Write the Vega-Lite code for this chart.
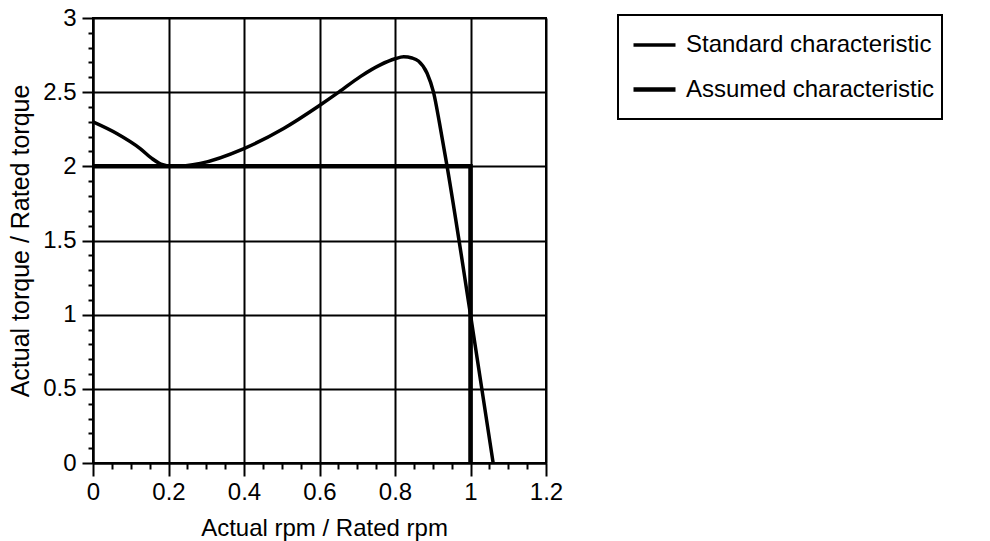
{
  "$schema": "https://vega.github.io/schema/vega-lite/v6.json",
  "width": 453,
  "height": 445,
  "autosize": "none",
  "padding": {"left": 93, "top": 18, "right": 444, "bottom": 78},
  "background": "white",
  "config": {
    "font": "Liberation Sans",
    "view": {"stroke": "black", "strokeWidth": 2},
    "axis": {
      "domainColor": "black",
      "domainWidth": 2,
      "tickColor": "black",
      "tickWidth": 2,
      "gridColor": "black",
      "gridWidth": 2,
      "labelColor": "black",
      "labelFontSize": 24,
      "titleColor": "black",
      "titleFontSize": 24,
      "titleFontWeight": "normal"
    }
  },
  "data": {
    "values": [
      {"series": "Standard characteristic", "i": 0, "rpm": 0, "torque": 2.30},
      {"series": "Standard characteristic", "i": 1, "rpm": 0.064, "torque": 2.22},
      {"series": "Standard characteristic", "i": 2, "rpm": 0.125, "torque": 2.12},
      {"series": "Standard characteristic", "i": 3, "rpm": 0.155, "torque": 2.055},
      {"series": "Standard characteristic", "i": 4, "rpm": 0.18, "torque": 2.015},
      {"series": "Standard characteristic", "i": 5, "rpm": 0.21, "torque": 2.0},
      {"series": "Standard characteristic", "i": 6, "rpm": 0.284, "torque": 2.02},
      {"series": "Standard characteristic", "i": 7, "rpm": 0.4, "torque": 2.12},
      {"series": "Standard characteristic", "i": 8, "rpm": 0.505, "torque": 2.255},
      {"series": "Standard characteristic", "i": 9, "rpm": 0.6, "torque": 2.41},
      {"series": "Standard characteristic", "i": 10, "rpm": 0.651, "torque": 2.5},
      {"series": "Standard characteristic", "i": 11, "rpm": 0.708, "torque": 2.605},
      {"series": "Standard characteristic", "i": 12, "rpm": 0.761, "torque": 2.684},
      {"series": "Standard characteristic", "i": 13, "rpm": 0.8, "torque": 2.725},
      {"series": "Standard characteristic", "i": 14, "rpm": 0.823, "torque": 2.738},
      {"series": "Standard characteristic", "i": 15, "rpm": 0.845, "torque": 2.73},
      {"series": "Standard characteristic", "i": 16, "rpm": 0.862, "torque": 2.71},
      {"series": "Standard characteristic", "i": 17, "rpm": 0.885, "torque": 2.628},
      {"series": "Standard characteristic", "i": 18, "rpm": 0.902, "torque": 2.5},
      {"series": "Standard characteristic", "i": 19, "rpm": 0.918, "torque": 2.29},
      {"series": "Standard characteristic", "i": 20, "rpm": 0.938, "torque": 2.0},
      {"series": "Standard characteristic", "i": 21, "rpm": 1.0, "torque": 1.0},
      {"series": "Standard characteristic", "i": 22, "rpm": 1.06, "torque": 0},
      {"series": "Assumed characteristic", "i": 0, "rpm": 0, "torque": 2.0},
      {"series": "Assumed characteristic", "i": 1, "rpm": 1.0, "torque": 2.0},
      {"series": "Assumed characteristic", "i": 2, "rpm": 1.0, "torque": 0}
    ]
  },
  "encoding": {
    "x": {
      "field": "rpm",
      "type": "quantitative",
      "scale": {"domain": [0, 1.2], "nice": false, "zero": false},
      "axis": {
        "title": "Actual rpm / Rated rpm",
        "values": [0, 0.05, 0.1, 0.15, 0.2, 0.25, 0.3, 0.35, 0.4, 0.45, 0.5, 0.55, 0.6, 0.65, 0.7, 0.75, 0.8, 0.85, 0.9, 0.95, 1, 1.05, 1.1, 1.15, 1.2],
        "labelExpr": "abs(datum.value*5 - round(datum.value*5)) < 0.001 ? format(datum.value, '~g') : ''",
        "tickSize": {"condition": {"test": "abs(datum.value*5 - round(datum.value*5)) < 0.001", "value": 13}, "value": 6},
        "grid": true,
        "gridOpacity": {"condition": {"test": "abs(datum.value*5 - round(datum.value*5)) < 0.001", "value": 1}, "value": 0},
        "labelPadding": 4,
        "labelFlush": false,
        "labelOverlap": false,
        "titleBaseline": "alphabetic",
        "titleY": 72,
        "titleX": 231
      }
    },
    "y": {
      "field": "torque",
      "type": "quantitative",
      "scale": {"domain": [0, 3], "nice": false},
      "axis": {
        "title": "Actual torque / Rated torque",
        "titleFontSize": 25,
        "values": [0, 0.1, 0.2, 0.3, 0.4, 0.5, 0.6, 0.7, 0.8, 0.9, 1, 1.1, 1.2, 1.3, 1.4, 1.5, 1.6, 1.7, 1.8, 1.9, 2, 2.1, 2.2, 2.3, 2.4, 2.5, 2.6, 2.7, 2.8, 2.9, 3],
        "labelExpr": "abs(datum.value*2 - round(datum.value*2)) < 0.001 ? format(datum.value, '~g') : ''",
        "tickSize": {"condition": {"test": "abs(datum.value*2 - round(datum.value*2)) < 0.001", "value": 11}, "value": 5},
        "grid": true,
        "gridOpacity": {"condition": {"test": "abs(datum.value*2 - round(datum.value*2)) < 0.001", "value": 1}, "value": 0},
        "labelPadding": 6,
        "labelFlush": false,
        "labelOverlap": false,
        "titleX": -60,
        "titleBaseline": "bottom"
      }
    },
    "color": {
      "field": "series",
      "type": "nominal",
      "sort": ["Standard characteristic", "Assumed characteristic"],
      "scale": {"domain": ["Standard characteristic", "Assumed characteristic"], "range": ["black", "black"]},
      "legend": {
        "orient": "none",
        "legendX": 525,
        "legendY": -3,
        "title": "\u00a0",
        "titleOrient": "bottom",
        "titleFontSize": 10,
        "titlePadding": 0,
        "strokeColor": "black",
        "fillColor": "white",
        "padding": 7,
        "symbolType": "stroke",
        "symbolSize": 1764,
        "symbolOffset": 6,
        "labelFontSize": 24,
        "labelColor": "black",
        "labelOffset": 8,
        "labelLimit": 1000,
        "rowPadding": 9,
        "encode": {"legend": {"update": {"strokeWidth": {"value": 2}}}}
      }
    },
    "strokeWidth": {
      "field": "series",
      "type": "nominal",
      "sort": ["Standard characteristic", "Assumed characteristic"],
      "scale": {"domain": ["Standard characteristic", "Assumed characteristic"], "range": [3.5, 4.5]},
      "legend": null
    },
    "order": {"field": "i", "type": "quantitative"}
  },
  "layer": [
    {
      "transform": [{"filter": "datum.series === 'Standard characteristic'"}],
      "mark": {"type": "line", "interpolate": "monotone", "clip": true}
    },
    {
      "transform": [{"filter": "datum.series === 'Assumed characteristic'"}],
      "mark": {"type": "line", "strokeJoin": "miter", "clip": true}
    }
  ]
}
